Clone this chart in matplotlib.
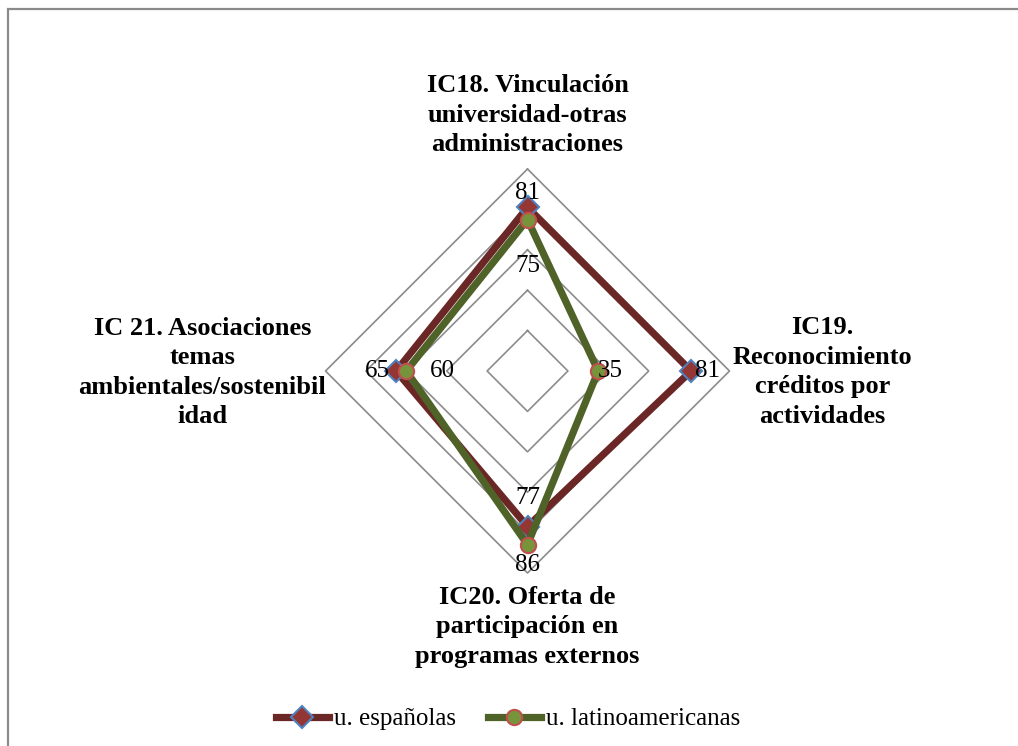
import matplotlib
matplotlib.use("Agg")
import matplotlib.pyplot as plt
from matplotlib.patches import Rectangle
import numpy as np

# ---- data ----
categories = [
    "IC18. Vinculación\nuniversidad-otras\nadministraciones",
    "IC19.\nReconocimiento\ncréditos por\nactividades",
    "IC20. Oferta de\nparticipación en\nprogramas externos",
    "IC 21. Asociaciones\ntemas\nambientales/sostenibil\nidad",
]
series_names = ["u. españolas", "u. latinoamericanas"]
espanolas = [81, 81, 77, 65]
latinoamericanas = [75, 35, 86, 60]
ring_levels = [20, 40, 60, 80, 100]

# ---- layout / style (not data) ----
angles_deg = [90, 0, -90, 180]
label_radius_esp = [88, 89, 63, 74.5]
label_radius_lat = [52, 41, 96, 42]
cat_label_xy = [(0, 126.5), (146, -0.5), (0, -126.5), (-161, -0.8)]

W, H = 1018, 746
cx, cy, scale = 527.5, 371.0, 2.02
plt.rcParams['font.family'] = ['Liberation Serif', 'DejaVu Serif']

fig = plt.figure(figsize=(W / 100, H / 100), dpi=100)
ax = fig.add_axes([0, 0, 1, 1])
ax.set_xlim(-cx / scale, (W - cx) / scale)
ax.set_ylim((cy - H) / scale, cy / scale)
ax.axis('off')

ang = np.deg2rad(angles_deg)

def xy(vals):
    v = np.asarray(vals, dtype=float)
    x = v * np.cos(ang)
    y = v * np.sin(ang)
    return np.append(x, x[0]), np.append(y, y[0])

# grid rings
for lv in ring_levels:
    gx, gy = xy([lv] * 4)
    ax.plot(gx, gy, color='#8c8c8c', lw=1.2, zorder=1)

# series
ex, ey = xy(espanolas)
ax.plot(ex, ey, color='#6b2725', lw=5.2, solid_joinstyle='round', zorder=3,
        marker='D', markersize=11, markerfacecolor='#943634',
        markeredgecolor='#4f81bd', markeredgewidth=1.5, label=series_names[0],
        markevery=[0, 1, 2, 3])
lx, ly = xy(latinoamericanas)
ax.plot(lx, ly, color='#4f6228', lw=5.2, solid_joinstyle='round', zorder=4,
        marker='o', markersize=11, markerfacecolor='#77933c',
        markeredgecolor='#c0504d', markeredgewidth=1.5, label=series_names[1],
        markevery=[0, 1, 2, 3])

# data labels
for vals, rads in ((espanolas, label_radius_esp), (latinoamericanas, label_radius_lat)):
    for v, r, a in zip(vals, rads, ang):
        ax.text(r * np.cos(a), r * np.sin(a), str(v), ha='center', va='center',
                fontsize=18, color='black', zorder=6)

# category labels
for txt, (tx, ty) in zip(categories, cat_label_xy):
    ax.text(tx, ty, txt, ha='center', va='center', multialignment='center',
            fontsize=19, fontweight='bold', linespacing=1.36, zorder=6)

leg = ax.legend(loc='center', bbox_to_anchor=(0.499, 0.036), bbox_transform=fig.transFigure,
                ncol=2, frameon=False, fontsize=18, handlelength=2.1,
                handletextpad=0.2, columnspacing=1.3)

# chart border
fig.add_artist(Rectangle((8 / W, -0.1), 1.2, 1 - 9 / H + 0.1, transform=fig.transFigure,
                         fill=False, edgecolor='#8a8a8a', lw=1.6))

fig.savefig('out.png', dpi=100)
